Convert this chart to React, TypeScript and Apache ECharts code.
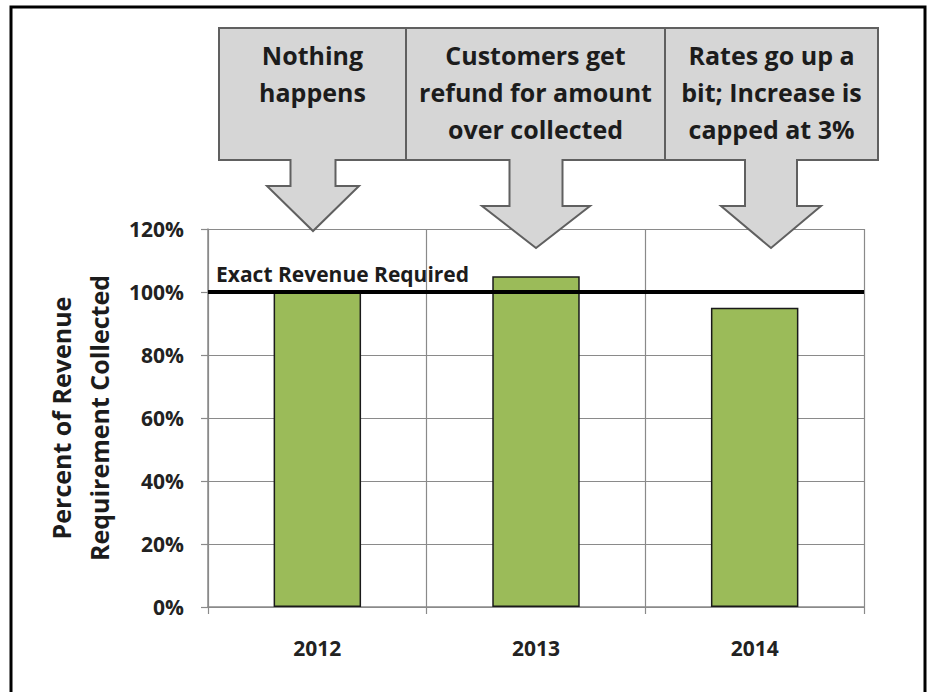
import React, { useEffect, useRef } from "react";
import * as echarts from "echarts";

const categories = ["2012", "2013", "2014"];
const percentCollected = [100, 105, 95];
const exactRevenueRequired = 100;
const yTicks = { min: 0, max: 120, interval: 20 };
const calloutTexts = [
  "Nothing\nhappens",
  "Customers get\nrefund for amount\nover collected",
  "Rates go up a\nbit; Increase is\ncapped at 3%",
];

const FONT = "'Open Sans', 'Noto Sans', sans-serif";
const GRID = "#8a8a8a";

// callout geometry (annotation layout)
const callouts = [
  { left: 219, right: 406, top: 28, bottom: 160, cx: 313, stemHalf: 22.5, stemBottom: 186, headHalf: 46, tipY: 231 },
  { left: 406, right: 665, top: 28, bottom: 160, cx: 536, stemHalf: 26.5, stemBottom: 206, headHalf: 54, tipY: 248 },
  { left: 665, right: 878, top: 28, bottom: 160, cx: 771, stemHalf: 26, stemBottom: 206, headHalf: 50, tipY: 248 },
];

function calloutGraphic() {
  const els: any[] = [];
  callouts.forEach((c, i) => {
    const pts = [
      [c.left, c.top],
      [c.right, c.top],
      [c.right, c.bottom],
      [c.cx + c.stemHalf, c.bottom],
      [c.cx + c.stemHalf, c.stemBottom],
      [c.cx + c.headHalf, c.stemBottom],
      [c.cx, c.tipY],
      [c.cx - c.headHalf, c.stemBottom],
      [c.cx - c.stemHalf, c.stemBottom],
      [c.cx - c.stemHalf, c.bottom],
      [c.left, c.bottom],
    ];
    els.push({
      type: "polygon",
      shape: { points: pts },
      style: { fill: "#d6d6d6", stroke: "#606060", lineWidth: 2 },
      z: 10 + i,
      silent: true,
    });
    els.push({
      type: "text",
      x: (c.left + c.right) / 2,
      y: 36,
      z: 20,
      silent: true,
      style: {
        text: calloutTexts[i],
        fill: "#1c1c1c",
        fontFamily: FONT,
        fontWeight: "bold",
        fontSize: 25,
        lineHeight: 37,
        align: "center",
        verticalAlign: "top",
      },
    });
  });
  els.push({
    type: "rect",
    shape: { x: 11, y: 7, width: 914, height: 700 },
    style: { fill: "none", stroke: "#000", lineWidth: 3 },
    z: 30,
    silent: true,
  });
  return els;
}

export default function App() {
  const ref = useRef<HTMLDivElement>(null);
  useEffect(() => {
    if (!ref.current) return;
    const chart = echarts.init(ref.current, null, { renderer: "svg" });
    chart.setOption({
      animation: false,
      backgroundColor: "#fff",
      grid: { left: 208, right: 65, top: 229, bottom: 85, containLabel: false },
      xAxis: {
        type: "category",
        data: categories,
        boundaryGap: true,
        axisLine: { show: true, lineStyle: { color: GRID, width: 1.5 } },
        axisTick: { show: true, length: 7, interval: 0, lineStyle: { color: GRID, width: 1.2 } },
        splitLine: { show: true, interval: 0, lineStyle: { color: GRID, width: 1.2 } },
        axisLabel: {
          margin: 30,
          color: "#222",
          fontFamily: FONT,
          fontWeight: "bold",
          fontSize: 21,
        },
      },
      yAxis: {
        type: "value",
        min: yTicks.min,
        max: yTicks.max,
        interval: yTicks.interval,
        name: "Percent of Revenue\nRequirement Collected",
        nameLocation: "middle",
        nameRotate: 90,
        nameGap: 80,
        nameTextStyle: {
          color: "#1c1c1c",
          fontFamily: FONT,
          fontWeight: "bold",
          fontSize: 25,
          lineHeight: 38,
        },
        axisLine: { show: true, lineStyle: { color: GRID, width: 1.5 } },
        axisTick: { show: true, length: 7, lineStyle: { color: GRID, width: 1.2 } },
        splitLine: { show: true, lineStyle: { color: GRID, width: 1.2 } },
        axisLabel: {
          formatter: "{value}%",
          margin: 24,
          color: "#222",
          fontFamily: FONT,
          fontWeight: "bold",
          fontSize: 21,
        },
      },
      series: [
        {
          type: "bar",
          data: percentCollected,
          barWidth: "40%",
          itemStyle: { color: "#9bbb59", borderColor: "#1a1a1a", borderWidth: 1.5 },
          silent: true,
          markLine: {
            silent: true,
            symbol: "none",
            lineStyle: { color: "#000", width: 4, type: "solid" },
            label: {
              show: true,
              position: "insideStartTop",
              formatter: "Exact Revenue Required",
              color: "#1c1c1c",
              fontFamily: FONT,
              fontWeight: "bold",
              fontSize: 21,
              distance: 8,
            },
            data: [{ yAxis: exactRevenueRequired }],
          },
        },
      ],
      graphic: calloutGraphic(),
    });
    return () => chart.dispose();
  }, []);
  return (
    <div
      ref={ref}
      style={{ position: "fixed", left: 0, top: 0, width: 929, height: 692 }}
    />
  );
}
